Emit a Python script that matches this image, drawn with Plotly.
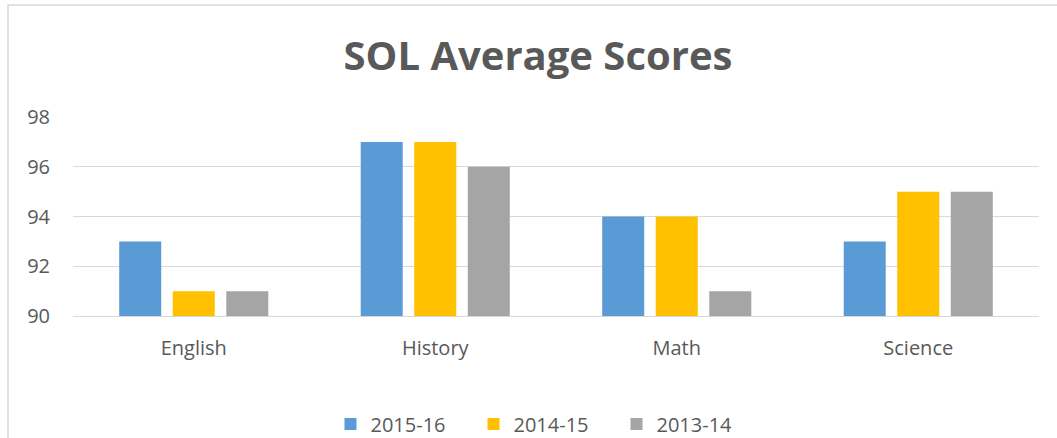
import plotly.graph_objects as go

categories = ["English", "History", "Math", "Science"]
series_names = ["2015-16", "2014-15", "2013-14"]
s2015_16 = [93, 97, 94, 93]
s2014_15 = [91, 97, 94, 95]
s2013_14 = [91, 96, 91, 95]
colors = ["#5B9BD5", "#FFC000", "#A5A5A5"]

W, H = 1057, 438
ml, mr, mt, mb = 73, 18, 117, 122
pw, ph = W - ml - mr, H - mt - mb

fig = go.Figure()
for name, vals, c in zip(series_names, [s2015_16, s2014_15, s2013_14], colors):
    fig.add_trace(go.Bar(
        x=categories, y=[v - 90 for v in vals], base=90, name=name,
        marker=dict(color=c, line=dict(width=0)),
        hovertemplate="%{x}: %{y}<extra></extra>",
    ))

fig.update_layout(
    width=W, height=H,
    margin=dict(l=ml, r=mr, t=mt, b=mb, autoexpand=False),
    paper_bgcolor="white", plot_bgcolor="white",
    barmode="group", bargap=0.335, bargroupgap=0.215,
    font=dict(family="Open Sans", color="#595959", size=20),
    title=dict(text="<b>SOL Average Scores</b>", x=538 / W, xanchor="center",
               y=1 - 56 / H, yanchor="middle",
               font=dict(size=40, color="#595959", family="Open Sans")),
    showlegend=True,
    legend=dict(orientation="h", x=545 / W, xanchor="center", xref="container",
                y=1 - 424 / H, yanchor="middle", yref="container",
                font=dict(size=20, color="#595959"),
                traceorder="normal", itemwidth=30, entrywidth=98),
    xaxis=dict(showgrid=False, showline=True, linecolor="#D9D9D9", linewidth=1,
               ticks="", ticklabelstandoff=14,
               tickfont=dict(size=20, color="#595959")),
    yaxis=dict(range=[90, 98], dtick=2, showgrid=True, gridcolor="#D9D9D9",
               gridwidth=1, zeroline=False, showline=False, ticks="",
               ticklabelstandoff=22, tickfont=dict(size=20, color="#595959")),
    shapes=[dict(type="rect", xref="paper", yref="paper",
                 x0=(8 - ml) / pw, x1=(W + 20 - ml) / pw,
                 y0=(316 - H - 20) / ph, y1=1 + (mt - 5) / ph,
                 line=dict(color="#D9D9D9", width=1.5), fillcolor="rgba(0,0,0,0)",
                 layer="below")],
)

fig.write_html("out.html", config={"displayModeBar": False},
               post_script="document.body.style.margin='0';")
